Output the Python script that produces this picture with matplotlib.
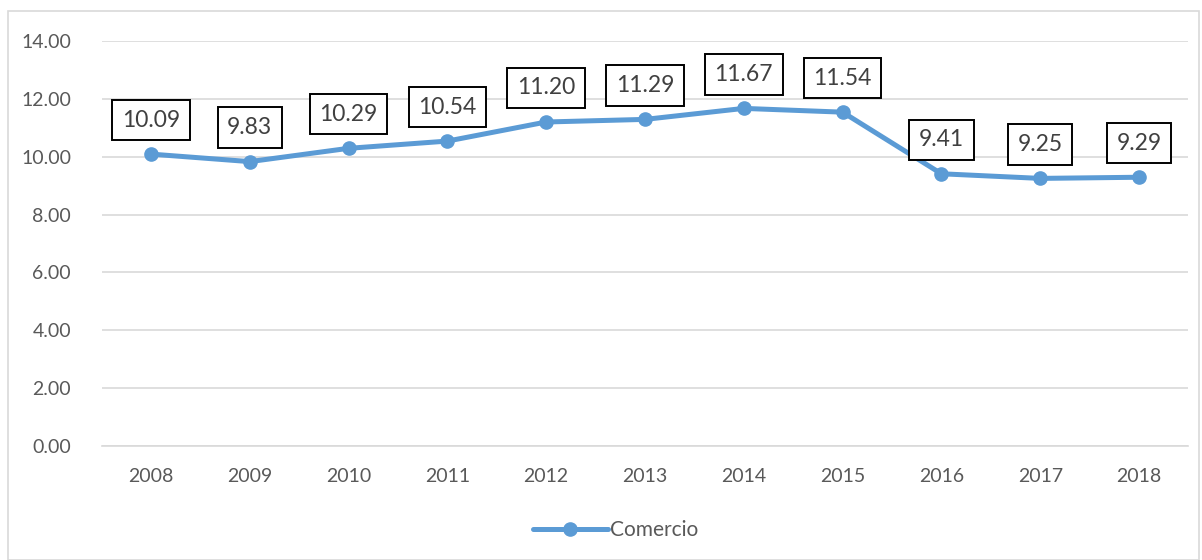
import matplotlib.pyplot as plt
from matplotlib.patches import Rectangle

years = ['2008', '2009', '2010', '2011', '2012', '2013', '2014', '2015', '2016', '2017', '2018']
comercio = [10.09, 9.83, 10.29, 10.54, 11.20, 11.29, 11.67, 11.54, 9.41, 9.25, 9.29]
yticks = [0, 2, 4, 6, 8, 10, 12, 14]

plt.rcParams['font.family'] = ['Lato', 'DejaVu Sans']

fig = plt.figure(figsize=(12.02, 5.6), dpi=100)
ax = fig.add_axes([0.0845, 0.2036, 0.9042, 0.7232])

# chart border
fig.patches.append(Rectangle((8/1202, 0), 1191/1202, 549/560, transform=fig.transFigure,
                             fill=False, edgecolor='#d9d9d9', linewidth=1.2))

x = list(range(len(years)))
ax.plot(x, comercio, color='#5b9bd5', linewidth=3.6, marker='o', markersize=9.5,
        label='Comercio', solid_capstyle='round')

for xi, v in zip(x, comercio):
    ax.annotate(f'{v:.2f}', (xi, v), xytext=(0, 34), textcoords='offset pixels',
                ha='center', va='center', fontsize=16.5, color='#404040',
                bbox=dict(boxstyle='square,pad=0.42', facecolor='white', edgecolor='black', linewidth=1.4))

ax.set_xlim(-0.5, len(years) - 0.5)
ax.set_ylim(0, 14)
ax.set_yticks(yticks)
ax.set_yticklabels([f'{t:.2f}' for t in yticks])
ax.set_xticks(x)
ax.set_xticklabels(years)
ax.tick_params(axis='both', length=0, labelsize=14, labelcolor='#595959')
ax.tick_params(axis='x', pad=16)
ax.tick_params(axis='y', pad=22)
ax.grid(axis='y', color='#d9d9d9', linewidth=1.2)
ax.set_axisbelow(True)
for s in ['top', 'right', 'left']:
    ax.spines[s].set_visible(False)
ax.spines['bottom'].set_color('#d9d9d9')
ax.spines['bottom'].set_linewidth(1.2)

leg = ax.legend(loc='center', bbox_to_anchor=(0.473, -0.207), frameon=False, fontsize=15,
                handlelength=3.6, handletextpad=0.1)
for t in leg.get_texts():
    t.set_color('#595959')

fig.savefig('out.png', dpi=100)
